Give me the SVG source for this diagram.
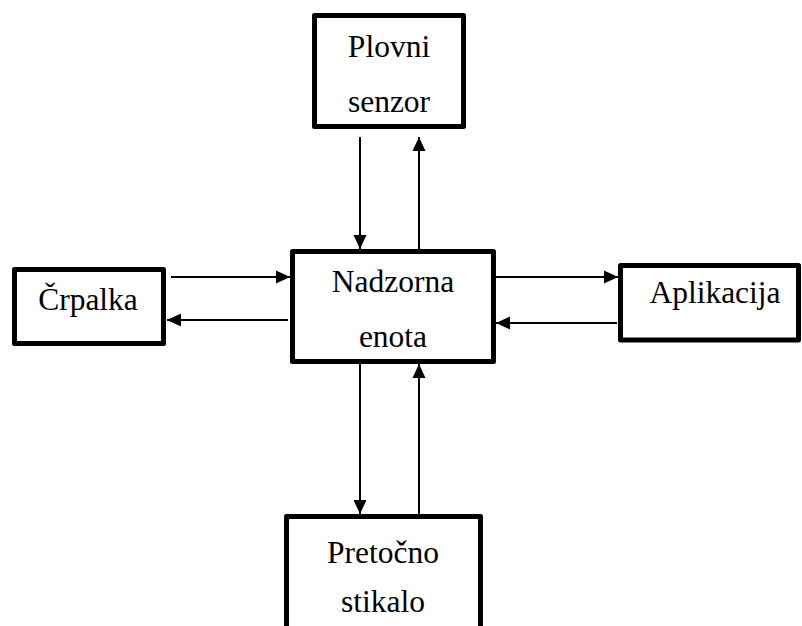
<svg xmlns="http://www.w3.org/2000/svg" width="802" height="626" viewBox="0 0 802 626">
<defs>
<style>
.box{fill:#fff;stroke:#000;stroke-width:5;stroke-linejoin:round}
.lbl{font-family:'Liberation Serif','Times New Roman',Tinos,'DejaVu Serif',serif;font-size:31.5px;fill:#000;text-anchor:middle}
.con{stroke:#000;stroke-width:2;fill:none;marker-end:url(#ah)}
</style>
<marker id="ah" markerUnits="userSpaceOnUse" markerWidth="14" markerHeight="14" viewBox="0 0 14 14" refX="14" refY="7" orient="auto">
<path d="M0,0.5 L14,7 L0,13.5 Z" fill="#000"/>
</marker>
</defs>
<rect width="802" height="626" fill="#fff"/>
<g id="connectors">
<line class="con" x1="360" y1="137" x2="360" y2="249"/>
<line class="con" x1="419" y1="249" x2="419" y2="137"/>
<line class="con" x1="171" y1="277" x2="290" y2="277"/>
<line class="con" x1="288" y1="320" x2="167" y2="320"/>
<line class="con" x1="496" y1="277" x2="618" y2="277"/>
<line class="con" x1="617" y1="323" x2="496" y2="323"/>
<line class="con" x1="360" y1="364" x2="360" y2="514"/>
<line class="con" x1="419" y1="514" x2="419" y2="364"/>
</g>
<g id="nadzorna">
<rect class="box" x="292.5" y="251.5" width="201" height="110"/>
<text class="lbl" x="393" y="292" font-family="Liberation Serif, serif">Nadzorna</text>
<text class="lbl" x="393" y="347" font-family="Liberation Serif, serif">enota</text>
</g>
<g id="plovni">
<rect class="box" x="314.5" y="15.5" width="149" height="111"/>
<text class="lbl" x="389" y="57" font-family="Liberation Serif, serif">Plovni</text>
<text class="lbl" x="389" y="112" font-family="Liberation Serif, serif">senzor</text>
</g>
<g id="crpalka">
<rect class="box" x="14.5" y="269.5" width="149" height="74"/>
<text class="lbl" x="88" y="310" font-family="Liberation Serif, serif">Črpalka</text>
</g>
<g id="aplikacija">
<rect class="box" x="620.5" y="265.5" width="178" height="74.5"/>
<text class="lbl" x="715" y="303" font-family="Liberation Serif, serif">Aplikacija</text>
</g>
<g id="pretocno">
<rect class="box" x="286.5" y="516.5" width="194" height="120"/>
<text class="lbl" x="383" y="563" font-family="Liberation Serif, serif">Pretočno</text>
<text class="lbl" x="383" y="612" font-family="Liberation Serif, serif">stikalo</text>
</g>
</svg>
